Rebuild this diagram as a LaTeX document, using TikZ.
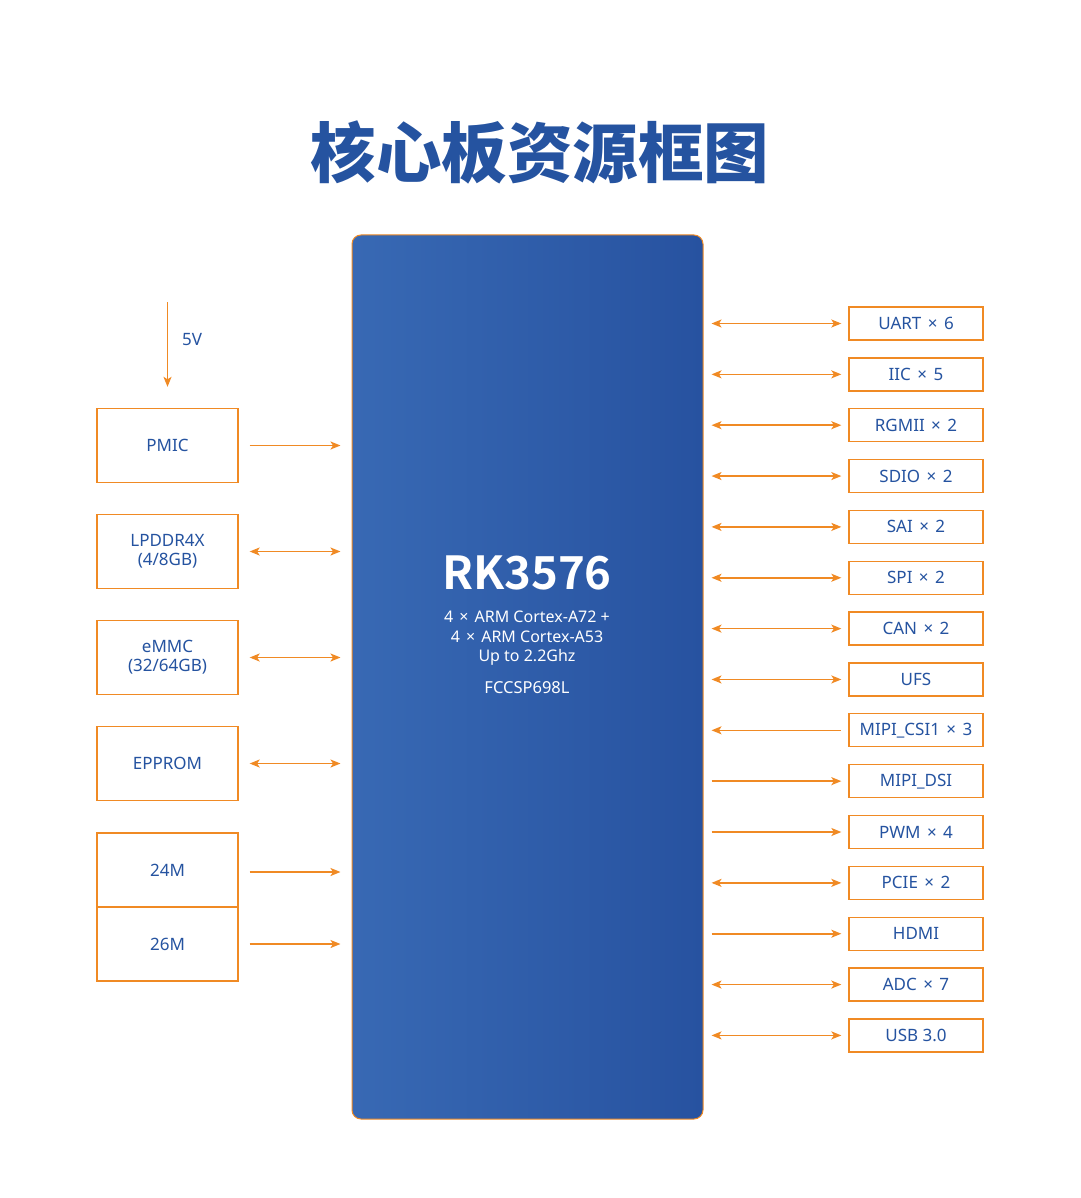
\documentclass[tikz,border=0pt]{standalone}
\usepackage{fontspec}
\setmainfont{Noto Sans}
\newfontfamily\cjkbold[BoldFont={Noto Sans CJK SC Black}]{Noto Sans CJK SC}
\newfontfamily\cjkb[BoldFont={Noto Sans CJK SC Bold}]{Noto Sans CJK SC}
\usetikzlibrary{arrows.meta}
\definecolor{ora}{HTML}{F08A24}
\definecolor{tblue}{HTML}{2553A0}
\definecolor{chipL}{HTML}{3869B4}
\definecolor{chipR}{HTML}{2752A0}
\newcommand\tms{\hspace{0.38em}×\hspace{0.38em}}
\tikzset{
  lbox/.style={draw=ora, line width=1.3pt, fill=white, minimum width=141pt, minimum height=74pt, inner sep=0pt, text=tblue, font=\fontsize{17}{19}\selectfont, align=center},
  rbox/.style={draw=ora, line width=1.3pt, fill=white, minimum width=134pt, minimum height=33pt, inner sep=0pt, text=tblue, font=\fontsize{17}{19}\selectfont},
  conn/.style={draw=ora, line width=1.6pt},
  tipR/.style={-{Stealth[length=10pt,width=8pt,inset=2.5pt]}},
  tipL/.style={{Stealth[length=10pt,width=8pt,inset=2.5pt]}-},
  tipB/.style={{Stealth[length=10pt,width=8pt,inset=2.5pt]}-{Stealth[length=10pt,width=8pt,inset=2.5pt]}},
  lgap/.style={shorten <=11pt, shorten >=11pt},
  rgap/.style={shorten <=8pt, shorten >=7pt},
  chiptxt/.style={text=white, inner sep=0pt}
}
\begin{document}
\begin{tikzpicture}[x=1pt,y=-1pt]
\useasboundingbox (0,0) rectangle (1080,1198);
% title
\node[text=tblue, inner sep=0pt] (title) at (540,152) {\cjkbold\bfseries\fontsize{65.5}{70}\selectfont 核心板资源框图};
% chip
\node[draw=ora, line width=1pt, rounded corners=9pt, left color=chipL, right color=chipR, minimum width=351pt, minimum height=884pt, inner sep=0pt] (chip) at (527.5,677) {};
\node[chiptxt, font=\cjkb\bfseries\fontsize{45.5}{50}\selectfont] (name) at (527,573) {RK3576};
\node[chiptxt, font=\fontsize{16}{19.5}\selectfont, align=center, anchor=north] (desc) at (527,611) {4\tms ARM Cortex-A72 +\\4\tms ARM Cortex-A53\\Up to 2.2Ghz};
\node[chiptxt, font=\fontsize{16.5}{19.5}\selectfont] (pkg) at (527,688) {FCCSP698L};
% left boxes
\node[lbox] (pmic) at (167.5,445.5) {PMIC};
\node[lbox] (lpddr) at (167.5,551.5) {LPDDR4X\\(4/8GB)};
\node[lbox] (emmc) at (167.5,657.5) {eMMC\\(32/64GB)};
\node[lbox] (eprom) at (167.5,763.5) {EPPROM};
\node[lbox] (m24) at (167.5,870) {24M};
\node[lbox] (m26) at (167.5,944) {26M};
% 5V
\coordinate (vin) at (167.5,302);
\draw[conn, tipR, shorten >=21pt] (vin) -- (pmic.north);
\node[text=tblue, font=\fontsize{17}{19}\selectfont, inner sep=0pt] (v5) at (192,340) {5V};
% left connectors
\draw[conn, tipR, lgap] (pmic.east) -- (pmic.east -| chip.west);
\draw[conn, tipB, lgap] (lpddr.east) -- (lpddr.east -| chip.west);
\draw[conn, tipB, lgap] (emmc.east) -- (emmc.east -| chip.west);
\draw[conn, tipB, lgap] (eprom.east) -- (eprom.east -| chip.west);
\draw[conn, tipR, lgap] ([yshift=-2pt]m24.east) -- ([yshift=-2pt]m24.east -| chip.west);
\draw[conn, tipR, lgap] (m26.east) -- (m26.east -| chip.west);
% right boxes
\foreach \nm/\txt/\tip [count=\i from 0] in {
  uart/UART\tms 6/tipB, iic/IIC\tms 5/tipB, rgmii/RGMII\tms 2/tipB, sdio/SDIO\tms 2/tipB,
  sai/SAI\tms 2/tipB, spi/SPI\tms 2/tipB, can/CAN\tms 2/tipB, ufs/UFS/tipB,
  csi/MIPI\_CSI1\tms 3/tipL, dsi/MIPI\_DSI/tipR, pwm/PWM\tms 4/tipR, pcie/PCIE\tms 2/tipB,
  hdmi/HDMI/tipR, adc/ADC\tms 7/tipB, usb/USB 3.0/tipB} {
  \node[rbox] (\nm) at (916,{323.5+50.85*\i}) {\txt};
  \draw[conn, \tip, rgap] (\nm.west -| chip.east) -- (\nm.west);
}
\end{tikzpicture}
\end{document}
